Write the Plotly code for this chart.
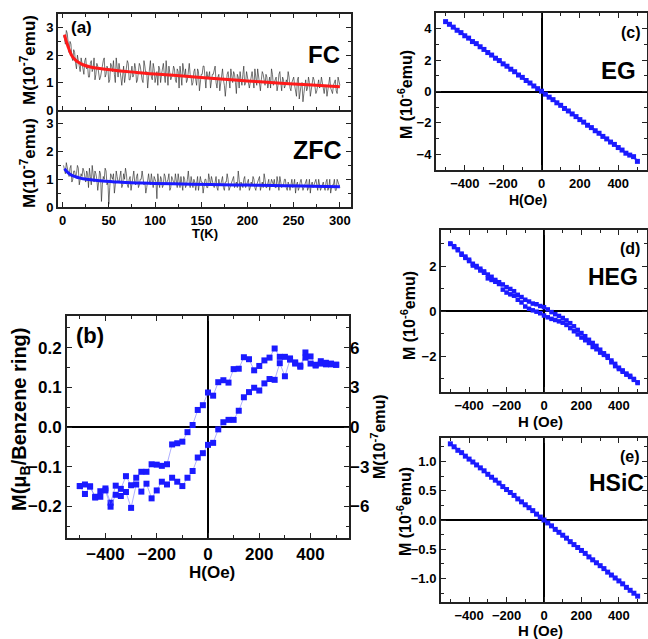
import plotly.graph_objects as go

W, H = 648, 639
def px(x): return x / W
def py(y): return 1 - y / H

# ---------------- data ----------------
T_even = list(range(2, 301, 2))
T_odd = list(range(1, 300, 2))
fc_even = [2.6, 2.9, 2.3, 2.5, 1.9, 2.2, 1.7, 2.0, 1.6, 1.9,
           1.4, 1.8, 1.5, 1.2, 1.7, 1.4, 1.9, 1.3, 1.6, 1.1,
           1.5, 1.8, 1.2, 1.6, 1.0, 1.7, 1.4, 1.3, 1.9, 1.2,
           1.5, 0.9, 1.6, 1.3, 1.8, 1.1, 1.5, 1.2, 1.7, 1.0,
           1.4, 1.6, 1.1, 1.8, 1.3, 0.8, 1.5, 1.2, 1.7, 1.0,
           1.4, 1.6, 1.0, 1.5, 1.3, 1.8, 0.9, 1.4, 1.2, 1.6,
           1.1, 1.5, 0.8, 1.3, 1.7, 1.2, 1.0, 1.6, 1.3, 0.9,
           1.4, 1.1, 1.5, 0.7, 1.3, 1.6, 1.0, 1.4, 1.2, 0.8,
           1.3, 1.5, 1.0, 1.2, 0.7, 1.4, 1.1, 0.5, 1.3, 0.9,
           1.5, 1.0, 1.3, 0.6, 1.2, 1.4, 0.9, 1.6, 1.0, 1.2,
           0.8, 1.3, 1.1, 1.5, 0.9, 1.2, 0.7, 1.4, 1.0, 1.3,
           0.8, 1.2, 1.5, 0.9, 1.1, 0.7, 1.3, 1.0, 1.2, 0.8,
           1.1, 1.4, 0.8, 1.0, 1.2, 0.6, 1.1, 0.4, 0.9, 0.3,
           1.0, 0.7, 1.2, 0.5, 0.9, 1.1, 0.6, 1.0, 0.8, 1.2,
           0.7, 0.9, 0.5, 1.1, 0.8, 0.6, 1.0, 0.7, 1.2, 0.9]
fc_odd = [2.7, 2.4, 2.8, 2.1, 2.4, 1.8, 2.1, 1.5, 1.8, 1.4,
          1.7, 1.3, 1.9, 1.6, 1.2, 1.8, 1.5, 1.1, 1.7, 1.4,
          1.2, 1.6, 1.9, 1.3, 1.5, 1.1, 1.6, 1.8, 1.0, 1.4,
          1.7, 1.2, 1.4, 1.0, 1.5, 1.7, 1.1, 1.6, 1.3, 1.5,
          1.1, 1.7, 1.3, 1.0, 1.6, 1.4, 1.2, 1.8, 1.1, 1.5,
          1.2, 0.9, 1.5, 1.3, 1.7, 1.0, 1.4, 1.6, 1.1, 1.3,
          1.5, 1.0, 1.4, 1.6, 0.9, 1.3, 1.5, 1.1, 1.7, 1.2,
          1.0, 1.5, 0.9, 1.4, 1.1, 1.3, 1.6, 0.8, 1.2, 1.4,
          1.0, 1.3, 1.6, 0.8, 1.3, 1.0, 1.5, 0.9, 1.1, 1.4,
          0.8, 1.2, 1.4, 1.0, 1.3, 0.8, 1.1, 1.3, 0.9, 1.4,
          1.1, 1.0, 1.4, 0.8, 1.2, 1.5, 1.0, 1.1, 1.3, 0.9,
          1.2, 1.0, 0.8, 1.3, 1.0, 1.2, 0.9, 1.4, 0.7, 1.1,
          0.9, 1.0, 1.2, 0.7, 1.1, 0.9, 0.5, 1.2, 0.7, 1.0,
          0.6, 1.1, 0.8, 1.0, 0.7, 1.2, 0.9, 0.7, 1.1, 0.9,
          1.0, 0.6, 0.9, 0.8, 1.2, 0.7, 0.9, 1.1, 0.6, 1.0]
zfc_even = [1.3, 1.6, 1.2, 1.4, 0.9, 1.3, 1.1, 1.5, 0.8, 1.2,
            1.4, 1.0, 1.3, 0.7, 1.1, 1.5, 0.9, 1.2, 0.6, 1.3,
            0.2, 1.1, 1.4, 0.8, 0.1, 1.2, 1.0, 0.5, 1.3, 0.9,
            1.1, 0.7, 1.2, 1.4, 0.8, 1.0, 0.6, 1.2, 0.9, 1.1,
            0.7, 1.0, 1.3, 0.8, 0.5, 1.1, 0.9, 1.2, 0.7, 1.0,
            0.3, 0.9, 1.1, 0.7, 1.2, 0.8, 1.0, 0.6, 1.1, 0.9,
            1.2, 0.7, 0.9, 1.1, 0.6, 1.0, 0.8, 1.3, 0.7, 0.9,
            1.0, 0.6, 1.1, 0.8, 0.9, 0.5, 1.0, 0.7, 1.2, 0.8,
            0.9, 0.7, 1.1, 0.6, 0.8, 1.0, 0.7, 0.9, 1.2, 0.6,
            0.8, 1.0, 0.7, 0.9, 1.3, 0.6, 0.8, 1.0, 0.7, 0.9,
            0.6, 0.9, 1.1, 0.7, 0.8, 1.0, 0.6, 0.9, 1.2, 0.7,
            0.9, 0.6, 1.0, 0.8, 0.7, 1.1, 0.6, 0.9, 0.8, 1.0,
            0.7, 0.9, 0.6, 1.0, 0.8, 0.5, 0.9, 0.7, 1.0, 0.6,
            0.8, 1.0, 0.7, 0.5, 0.9, 0.8, 1.0, 0.6, 0.8, 0.7,
            0.9, 0.6, 1.0, 0.7, 0.5, 0.8, 1.0, 0.6, 0.9, 0.7]
zfc_odd = [1.5, 1.2, 1.4, 1.1, 1.5, 1.0, 1.3, 1.2, 1.4, 1.0,
           1.1, 1.3, 0.9, 1.2, 1.4, 0.8, 1.1, 1.3, 1.0, 0.9,
           1.2, 0.8, 1.0, 1.3, 0.9, 0.7, 1.1, 1.2, 0.8, 1.1,
           0.9, 1.3, 0.8, 1.0, 1.2, 0.7, 1.1, 0.9, 1.3, 0.8,
           1.2, 0.8, 1.0, 1.1, 0.9, 0.7, 1.2, 0.8, 1.0, 1.1,
           0.9, 1.2, 0.7, 1.0, 0.8, 1.1, 0.9, 1.2, 0.7, 1.0,
           0.8, 1.0, 1.2, 0.7, 0.9, 1.1, 0.7, 1.0, 0.9, 1.1,
           0.7, 0.9, 1.0, 0.6, 1.1, 0.9, 0.8, 1.0, 0.7, 1.0,
           1.1, 0.8, 0.9, 0.7, 1.0, 0.8, 1.1, 0.6, 0.9, 1.0,
           0.7, 0.9, 1.1, 0.8, 0.7, 1.0, 0.9, 0.7, 1.1, 0.8,
           1.0, 0.7, 0.8, 1.0, 0.6, 0.9, 1.1, 0.8, 0.7, 1.0,
           0.7, 1.0, 0.8, 0.9, 1.0, 0.7, 0.9, 1.1, 0.7, 0.8,
           1.0, 0.6, 0.8, 0.9, 0.7, 1.0, 0.8, 0.6, 0.9, 0.8,
           0.7, 0.9, 0.6, 1.0, 0.8, 0.7, 0.9, 0.8, 1.0, 0.6,
           0.8, 0.7, 0.9, 0.6, 1.0, 0.7, 0.8, 0.6, 1.0, 0.8]
fit_T = [2, 4, 6, 8, 10, 14, 18, 22, 30, 40, 60, 80, 100, 130, 160, 200, 240, 270, 300]
fc_fit = [2.75, 2.5, 2.3, 2.12, 1.98, 1.82, 1.72, 1.65, 1.57, 1.51, 1.43, 1.37, 1.31, 1.24, 1.16, 1.06, 0.97, 0.91, 0.85]
zfc_fit = [1.38, 1.3, 1.23, 1.18, 1.14, 1.09, 1.05, 1.02, 0.98, 0.95, 0.9, 0.87, 0.85, 0.83, 0.81, 0.79, 0.77, 0.75, 0.73]

Hb = list(range(-500, 501, 20))
b_up = [-0.149, -0.145, -0.150, -0.178, -0.162, -0.155, -0.191, -0.148, -0.156, -0.124,
        -0.147, -0.128, -0.113, -0.113, -0.094, -0.095, -0.098, -0.094, -0.044, -0.041,
        -0.037, -0.013, 0.005, 0.043, 0.055, 0.087, 0.079, 0.113, 0.118, 0.112,
        0.146, 0.147, 0.176, 0.171, 0.143, 0.154, 0.168, 0.175, 0.198, 0.177,
        0.177, 0.173, 0.163, 0.152, 0.188, 0.178, 0.155, 0.166, 0.158, 0.160, 0.157]
b_dn = [-0.149, -0.169, -0.150, -0.176, -0.176, -0.160, -0.201, -0.171, -0.174, -0.164,
        -0.204, -0.145, -0.163, -0.143, -0.180, -0.160, -0.138, -0.145, -0.128, -0.138,
        -0.149, -0.128, -0.111, -0.077, -0.066, -0.045, -0.040, -0.006, 0.012, 0.018,
        0.018, 0.041, 0.075, 0.088, 0.099, 0.092, 0.110, 0.121, 0.119, 0.161,
        0.128, 0.170, 0.160, 0.155, 0.175, 0.160, 0.157, 0.160, 0.162, 0.158, 0.157]

Hc = list(range(-500, 501, 20))
eg = [4.45, 4.28, 4.10, 3.90, 3.75, 3.55, 3.40, 3.18, 3.05, 2.85, 2.68, 2.48, 2.32,
      2.12, 1.97, 1.76, 1.61, 1.42, 1.26, 1.05, 0.90, 0.70, 0.54, 0.35, 0.18, 0.02,
      -0.17, -0.36, -0.52, -0.72, -0.88, -1.08, -1.24, -1.43, -1.60, -1.79, -1.95, -2.15,
      -2.30, -2.50, -2.66, -2.86, -3.02, -3.22, -3.37, -3.57, -3.73, -3.93, -4.05, -4.15, -4.45]

heg_up = [3.0, 2.88, 2.74, 2.55, 2.42, 2.28, 2.1, 2.0, 1.88, 1.76, 1.62, 1.52, 1.38,
          1.28, 1.18, 1.06, 0.98, 0.88, 0.72, 0.62, 0.5, 0.42, 0.33, 0.3, 0.22, 0.17,
          0.07, -0.05, -0.14, -0.22, -0.31, -0.42, -0.54, -0.68, -0.84, -0.98, -1.12, -1.28,
          -1.42, -1.55, -1.72, -1.88, -2.0, -2.2, -2.35, -2.52, -2.64, -2.78, -2.88, -3.02, -3.17]
heg_dn = [2.98, 2.84, 2.7, 2.5, 2.36, 2.22, 2.02, 1.94, 1.8, 1.7, 1.45, 1.38, 1.3,
          1.2, 0.95, 0.82, 0.74, 0.68, 0.5, 0.38, 0.2, 0.1, 0.03, -0.03, -0.1, -0.2,
          -0.28, -0.35, -0.4, -0.46, -0.52, -0.62, -0.76, -0.9, -1.04, -1.18, -1.3, -1.42,
          -1.6, -1.7, -1.85, -1.95, -2.08, -2.28, -2.45, -2.58, -2.7, -2.83, -2.93, -3.06, -3.2]

hsic = [1.30, 1.25, 1.19, 1.15, 1.09, 1.04, 0.99, 0.94, 0.89, 0.84, 0.78, 0.73, 0.68,
        0.63, 0.57, 0.52, 0.47, 0.42, 0.36, 0.31, 0.26, 0.21, 0.16, 0.10, 0.05, 0.00,
        -0.05, -0.10, -0.16, -0.21, -0.26, -0.31, -0.37, -0.42, -0.47, -0.52, -0.57, -0.63,
        -0.68, -0.73, -0.78, -0.83, -0.89, -0.94, -0.99, -1.04, -1.09, -1.15, -1.20, -1.25, -1.30]

# interleave odd/even temperature readings into one series
T = sorted(T_odd + T_even)
fc = [v for pair in zip(fc_odd, fc_even) for v in pair]
zfc = [v for pair in zip(zfc_odd, zfc_even) for v in pair]

# ---------------- figure ----------------
FONT = "Liberation Sans, Arial, sans-serif"
BLUE = "#1a1aff"
fig = go.Figure()

def noisy(x, y, xa, ya):
    fig.add_trace(go.Scatter(x=x, y=y, xaxis=xa, yaxis=ya, mode="lines",
                             line=dict(color="rgba(40,40,40,0.8)", width=0.8),
                             showlegend=False, hoverinfo="skip"))

noisy(T, fc, "x", "y")
fig.add_trace(go.Scatter(x=fit_T, y=fc_fit, xaxis="x", yaxis="y", mode="lines",
                         line=dict(color="#ff1a1a", width=3, shape="spline"), showlegend=False))
noisy(T, zfc, "x2", "y2")
fig.add_trace(go.Scatter(x=fit_T, y=zfc_fit, xaxis="x2", yaxis="y2", mode="lines",
                         line=dict(color="#1a1aff", width=3, shape="spline"), showlegend=False))

for yy in (b_up, b_dn):
    fig.add_trace(go.Scatter(x=Hb, y=yy, xaxis="x3", yaxis="y3", mode="lines+markers",
                             line=dict(color="rgba(120,120,255,0.6)", width=1),
                             marker=dict(symbol="square", size=6, color=BLUE),
                             showlegend=False))
fig.add_trace(go.Scatter(x=[0], y=[0], xaxis="x3", yaxis="y4", mode="markers",
                         marker=dict(opacity=0), showlegend=False, hoverinfo="skip"))

fig.add_trace(go.Scatter(x=Hc, y=eg, xaxis="x4", yaxis="y5", mode="lines+markers",
                         line=dict(color=BLUE, width=2),
                         marker=dict(symbol="square", size=5, color=BLUE), showlegend=False))
for yy in (heg_up, heg_dn):
    fig.add_trace(go.Scatter(x=Hc, y=yy, xaxis="x5", yaxis="y6", mode="markers",
                             marker=dict(symbol="square", size=4.5, color=BLUE), showlegend=False))
fig.add_trace(go.Scatter(x=Hc, y=hsic, xaxis="x6", yaxis="y7", mode="lines+markers",
                         line=dict(color=BLUE, width=2),
                         marker=dict(symbol="square", size=5, color=BLUE), showlegend=False))

def ax(domain, rng, dtick, minor, anchor, size, labels=True, zero=False, fmt=None, side=None):
    d = dict(domain=domain, range=rng, dtick=dtick, tick0=0, anchor=anchor,
             showline=True, linecolor="#222", linewidth=2, mirror="ticks",
             ticks="inside", ticklen=5, tickwidth=1.2, tickcolor="#222",
             minor=dict(ticks="inside", dtick=minor, ticklen=3, tickcolor="#222"),
             showgrid=False, showticklabels=labels, automargin=False,
             tickfont=dict(family=FONT, size=size, color="black", weight="bold"),
             zeroline=zero, zerolinecolor="black", zerolinewidth=1.5)
    if fmt:
        d["tickformat"] = fmt
    if side:
        d["side"] = side
    return d

xa = [px(58), px(351)]
fig.update_layout(
    xaxis=ax(xa, [-5, 312], 50, 25, "y", 13, labels=False),
    yaxis=ax([py(110), py(14)], [0, 3.5], 1, 0.5, "x", 13),
    xaxis2=ax(xa, [-5, 312], 50, 25, "y2", 13),
    yaxis2=ax([py(207), py(110)], [0, 3.5], 1, 0.5, "x2", 13),
    xaxis3=ax([px(67), px(349)], [-550, 550], 200, 100, "y3", 17, zero=True),
    yaxis3=ax([py(538), py(316)], [-0.28, 0.28], 0.1, 0.05, "x3", 17, zero=True, fmt=".1f"),
    xaxis4=ax([px(436), px(647)], [-550, 550], 200, 100, "y5", 13, zero=True),
    yaxis5=ax([py(170), py(13)], [-5, 5], 2, 1, "x4", 13, zero=True),
    xaxis5=ax([px(441), px(647)], [-550, 550], 200, 100, "y6", 13, zero=True),
    yaxis6=ax([py(392), py(230)], [-3.6, 3.6], 2, 1, "x5", 13, zero=True),
    xaxis6=ax([px(441), px(647)], [-550, 550], 200, 100, "y7", 13, zero=True),
    yaxis7=ax([py(602), py(438)], [-1.4, 1.4], 0.5, 0.25, "x6", 13, zero=True, fmt=".1f"),
)
# shared divider of panel (a): drawn once by the upper panel's x axis
fig.layout.xaxis.linewidth = 1.5
fig.layout.xaxis.ticklen = 4
fig.layout.xaxis2.mirror = False
fig.layout.xaxis2.linewidth = 2
y4 = ax([py(538), py(316)], [-8.4, 8.4], 3, 1.5, "x3", 17, side="right")
y4.update(overlaying="y3", showline=False, mirror=False)
fig.update_layout(yaxis4=y4)

def txt(x, y, s, size, angle=0, xanchor="center"):
    fig.add_annotation(x=px(x), y=py(y), xref="paper", yref="paper", text=s, showarrow=False,
                       textangle=angle, xanchor=xanchor, yanchor="middle",
                       font=dict(family=FONT, size=size, color="black", weight="bold"))

M7 = "M(10<sup>-7</sup>emu)"
M6 = "M (10<sup>-6</sup>emu)"
txt(28, 60, M7, 17, -90)
txt(28, 163, M7, 17, -90)
txt(205, 234, "T(K)", 13)
txt(81, 28, "(a)", 17)
txt(324, 54, "FC", 24)
txt(317, 150, "ZFC", 25)

txt(20, 420, "M(μ<sub>B</sub>/Benzene ring)", 20, -90)
txt(378, 437, M7, 16, -90)
txt(212, 572, "H(Oe)", 17)
txt(90, 335, "(b)", 22)

txt(405, 95, M6, 16, -90)
txt(528, 200, "H(Oe)", 14)
txt(631, 32, "(c)", 16)
txt(618, 70, "EG", 24)

txt(408, 316, M6, 16, -90)
txt(540, 421, "H (Oe)", 15)
txt(630, 248, "(d)", 16)
txt(613, 277, "HEG", 23)

txt(404, 512, M6, 16, -90)
txt(540, 630, "H (Oe)", 15)
txt(630, 456, "(e)", 16)
txt(616, 483, "HSiC", 23)

fig.update_layout(width=W, height=H, margin=dict(l=0, r=0, t=0, b=0),
                  paper_bgcolor="white", plot_bgcolor="white", showlegend=False,
                  font=dict(family=FONT, color="black", weight="bold"))
fig.write_html("out.html", config={"displayModeBar": False},
               post_script="document.body.style.margin='0';document.body.style.overflow='hidden';")
